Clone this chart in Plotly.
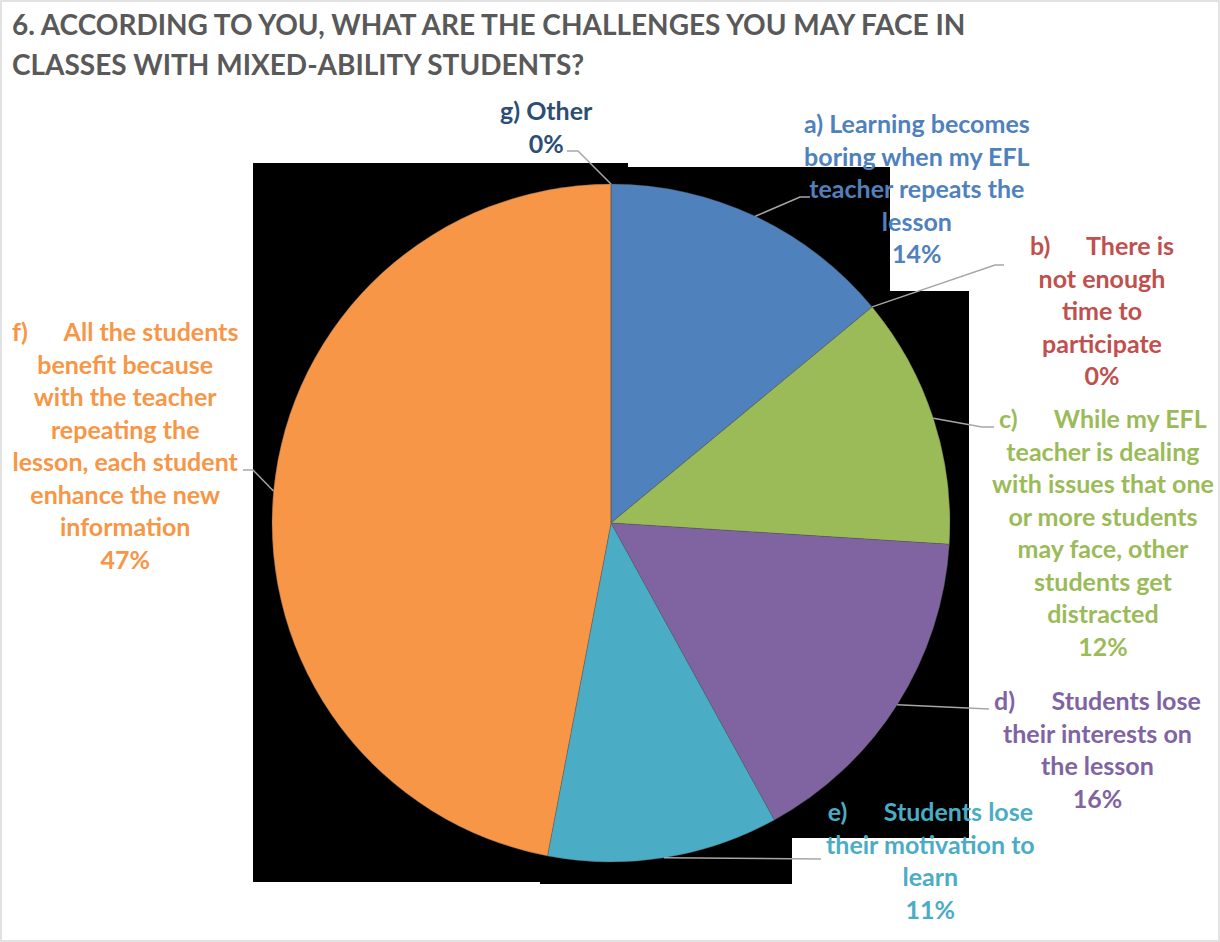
import math
import plotly.graph_objects as go

# Survey answers (share of respondents, %)
codes = ["a)", "b)", "c)", "d)", "e)", "f)", "g)"]
answers = [
    "Learning becomes boring when my EFL teacher repeats the lesson",
    "There is not enough time to participate",
    "While my EFL teacher is dealing with issues that one or more students may face, other students get distracted",
    "Students lose their interests on the lesson",
    "Students lose their motivation to learn",
    "All the students benefit because with the teacher repeating the lesson, each student enhance the new information",
    "Other",
]
shares = [14, 0, 12, 16, 11, 47, 0]

# Wrapped label lines as printed next to each slice
label_lines = [
    ["a) Learning becomes", "boring when my EFL", "teacher repeats the", "lesson"],
    ["b)\u00a0\u00a0\u00a0\u00a0\u00a0\u00a0There is", "not enough", "time to", "participate"],
    ["c)\u00a0\u00a0\u00a0\u00a0\u00a0\u00a0While my EFL", "teacher is dealing", "with issues that one",
     "or more students", "may face, other", "students get", "distracted"],
    ["d)\u00a0\u00a0\u00a0\u00a0\u00a0\u00a0Students lose", "their interests on", "the lesson"],
    ["e)\u00a0\u00a0\u00a0\u00a0\u00a0\u00a0Students lose", "their motivation to", "learn"],
    ["f)\u00a0\u00a0\u00a0\u00a0\u00a0\u00a0All the students", "benefit because", "with the teacher",
     "repeating the", "lesson, each student", "enhance the new", "information"],
    ["g) Other"],
]

title_lines = ["6. ACCORDING TO YOU, WHAT ARE THE CHALLENGES YOU MAY FACE IN",
               "CLASSES WITH MIXED-ABILITY STUDENTS?"]

slice_colors = ["#4F81BD", "#C0504D", "#9BBB59", "#8064A2", "#4BACC6", "#F79646", "#2C4D75"]
text_colors = ["#4F81BD", "#C0504D", "#9BBB59", "#8064A2", "#4BACC6", "#F79646", "#2C4D75"]

# ---- layout (pixel space) ----
W, H = 1220, 942
CX, CY, R = 611, 523, 339

# label block centres and leader-line elbows (pixels)
label_pos = [(917, 188), (1102, 310), (1103, 532), (1097, 749), (931, 860), (125, 445), (546, 127)]
elbows = [
    [(800, 197), (810, 197)],
    [(995, 265), (1004, 265)],
    [(982, 427), (994, 427)],
    [(989, 709)],
    [(821, 859)],
    [(253, 470), (243, 470)],
    [(578, 151), (567, 151)],
]
title_rows_y = [24, 64]


def px(x):
    return x / W


def py(y):
    return 1 - y / H


fig = go.Figure()

fig.add_trace(go.Pie(
    labels=[c + " " + a for c, a in zip(codes, answers)],
    values=shares,
    sort=False,
    direction="clockwise",
    rotation=0,
    marker=dict(colors=slice_colors, line=dict(color="rgba(90,90,90,0.6)", width=0.6)),
    textinfo="none",
    hoverinfo="label+percent",
    showlegend=False,
    domain=dict(x=[px(CX - R), px(CX + R)], y=[py(CY + R), py(CY - R)]),
))

total = sum(shares)
shapes = []

# dark backdrop behind the plot area
backdrop = [(253, 163), (628, 163), (628, 167), (890, 167), (890, 291), (969, 291),
            (969, 838), (792, 838), (792, 884), (540, 884), (540, 882), (253, 882)]
path = "M " + " L ".join(f"{px(x):.5f},{py(y):.5f}" for x, y in backdrop) + " Z"
shapes.append(dict(type="path", xref="paper", yref="paper", path=path,
                   fillcolor="black", line=dict(width=0), layer="below"))

# chart border
shapes.append(dict(type="rect", xref="paper", yref="paper", x0=px(1), y0=py(941), x1=px(1219), y1=py(1),
                   line=dict(color="#D9D9D9", width=1.5), fillcolor="rgba(0,0,0,0)", layer="below"))

annotations = []
cum = 0.0
for i, v in enumerate(shares):
    frac = v / total
    mid = (cum + frac / 2) * 2 * math.pi
    cum += frac
    ax = CX + R * math.sin(mid)
    ay = CY - R * math.cos(mid)
    pts = [(ax, ay)] + elbows[i]
    lp = "M " + " L ".join(f"{px(x):.5f},{py(y):.5f}" for x, y in pts)
    shapes.append(dict(type="path", xref="paper", yref="paper", path=lp,
                       line=dict(color="#A6A6A6", width=1.5), layer="above"))
    pct = f"{round(frac * 100)}%"
    text = "<br>".join(label_lines[i] + [pct])
    lx, ly = label_pos[i]
    annotations.append(dict(
        x=px(lx), y=py(ly), xref="paper", yref="paper", xanchor="center", yanchor="middle",
        text=text, showarrow=False, align="center",
        font=dict(family="Lato", size=25, color=text_colors[i], weight="bold"),
    ))

for line, ty in zip(title_lines, title_rows_y):
    annotations.append(dict(
        x=px(10), y=py(ty), xref="paper", yref="paper", xanchor="left", yanchor="middle",
        text=line, showarrow=False, align="left",
        font=dict(family="Lato", size=28, color="#595959", weight="bold"),
    ))

fig.update_layout(
    width=W, height=H,
    margin=dict(l=0, r=0, t=0, b=0),
    paper_bgcolor="white",
    plot_bgcolor="white",
    shapes=shapes,
    annotations=annotations,
)

fig.write_html("out.html")
